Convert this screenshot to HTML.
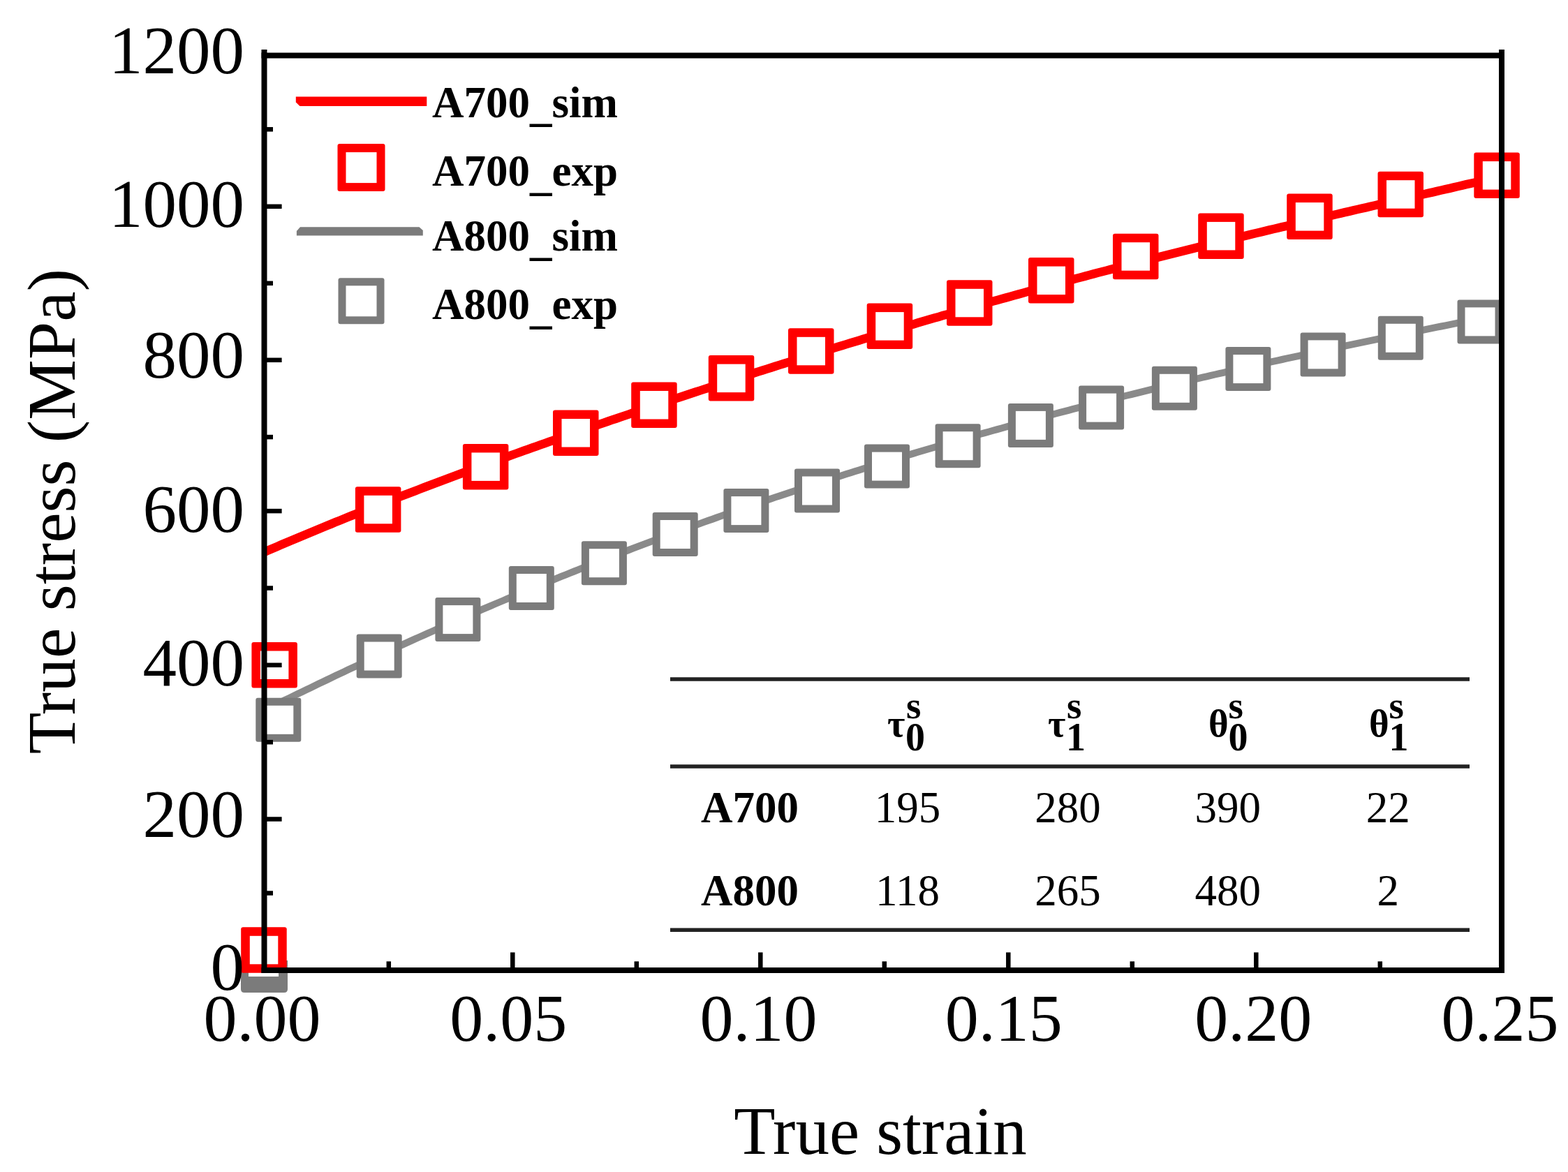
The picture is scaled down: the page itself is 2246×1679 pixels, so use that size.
<!DOCTYPE html><html><head><meta charset="utf-8"><title>True stress vs true strain</title>
<style>html,body{margin:0;padding:0;background:#fff;}svg{display:block;}text{font-family:"Liberation Serif","Times New Roman",serif;}</style></head><body>
<svg width="2246" height="1679" viewBox="0 0 2246 1679">
<rect x="0" y="0" width="2246" height="1679" fill="#fff"/>
<polyline points="378.5,1017.6 384.5,1014.6 390.5,1011.7 396.5,1008.7 402.5,1005.8 408.5,1002.8 414.5,999.9 420.5,997.0 426.5,994.1 432.5,991.2 438.5,988.3 444.5,985.4 450.5,982.5 456.5,979.6 462.5,976.7 468.5,973.9 474.5,971.0 480.5,968.1 486.5,965.3 492.5,962.5 498.5,959.6 504.5,956.8 510.5,954.0 516.5,951.2 522.5,948.4 528.5,945.6 534.5,942.8 540.5,940.1 546.5,937.3 552.5,934.5 558.5,931.8 564.5,929.0 570.5,926.3 576.5,923.6 582.5,920.9 588.5,918.1 594.5,915.4 600.5,912.7 606.5,910.1 612.5,907.4 618.5,904.7 624.5,902.0 630.5,899.4 636.5,896.7 642.5,894.1 648.5,891.4 654.5,888.8 660.5,886.2 666.5,883.6 672.5,881.0 678.5,878.4 684.5,875.8 690.5,873.2 696.5,870.7 702.5,868.1 708.5,865.5 714.5,863.0 720.5,860.5 726.5,857.9 732.5,855.4 738.5,852.9 744.5,850.4 750.5,847.9 756.5,845.4 762.5,842.9 768.5,840.4 774.5,838.0 780.5,835.5 786.5,833.1 792.5,830.6 798.5,828.2 804.5,825.7 810.5,823.3 816.5,820.9 822.5,818.5 828.5,816.1 834.5,813.7 840.5,811.3 846.5,809.0 852.5,806.6 858.5,804.3 864.5,801.9 870.5,799.6 876.5,797.2 882.5,794.9 888.5,792.6 894.5,790.3 900.5,788.0 906.5,785.7 912.5,783.4 918.5,781.1 924.5,778.9 930.5,776.6 936.5,774.4 942.5,772.1 948.5,769.9 954.5,767.7 960.5,765.4 966.5,763.2 972.5,761.0 978.5,758.8 984.5,756.6 990.5,754.4 996.5,752.3 1002.5,750.1 1008.5,747.9 1014.5,745.8 1020.5,743.7 1026.5,741.5 1032.5,739.4 1038.5,737.3 1044.5,735.2 1050.5,733.1 1056.5,731.0 1062.5,728.9 1068.5,726.8 1074.5,724.7 1080.5,722.6 1086.5,720.6 1092.5,718.5 1098.5,716.5 1104.5,714.5 1110.5,712.4 1116.5,710.4 1122.5,708.4 1128.5,706.4 1134.5,704.4 1140.5,702.4 1146.5,700.4 1152.5,698.4 1158.5,696.5 1164.5,694.5 1170.5,692.6 1176.5,690.6 1182.5,688.7 1188.5,686.7 1194.5,684.8 1200.5,682.9 1206.5,681.0 1212.5,679.1 1218.5,677.2 1224.5,675.3 1230.5,673.4 1236.5,671.5 1242.5,669.7 1248.5,667.8 1254.5,666.0 1260.5,664.1 1266.5,662.3 1272.5,660.4 1278.5,658.6 1284.5,656.8 1290.5,655.0 1296.5,653.2 1302.5,651.4 1308.5,649.6 1314.5,647.8 1320.5,646.0 1326.5,644.2 1332.5,642.5 1338.5,640.7 1344.5,639.0 1350.5,637.2 1356.5,635.5 1362.5,633.8 1368.5,632.0 1374.5,630.3 1380.5,628.6 1386.5,626.9 1392.5,625.2 1398.5,623.5 1404.5,621.8 1410.5,620.1 1416.5,618.5 1422.5,616.8 1428.5,615.1 1434.5,613.5 1440.5,611.8 1446.5,610.2 1452.5,608.5 1458.5,606.9 1464.5,605.3 1470.5,603.7 1476.5,602.1 1482.5,600.4 1488.5,598.8 1494.5,597.3 1500.5,595.7 1506.5,594.1 1512.5,592.5 1518.5,590.9 1524.5,589.4 1530.5,587.8 1536.5,586.2 1542.5,584.7 1548.5,583.2 1554.5,581.6 1560.5,580.1 1566.5,578.6 1572.5,577.0 1578.5,575.5 1584.5,574.0 1590.5,572.5 1596.5,571.0 1602.5,569.5 1608.5,568.0 1614.5,566.5 1620.5,565.1 1626.5,563.6 1632.5,562.1 1638.5,560.7 1644.5,559.2 1650.5,557.7 1656.5,556.3 1662.5,554.9 1668.5,553.4 1674.5,552.0 1680.5,550.6 1686.5,549.1 1692.5,547.7 1698.5,546.3 1704.5,544.9 1710.5,543.5 1716.5,542.1 1722.5,540.7 1728.5,539.3 1734.5,537.9 1740.5,536.5 1746.5,535.1 1752.5,533.8 1758.5,532.4 1764.5,531.0 1770.5,529.7 1776.5,528.3 1782.5,527.0 1788.5,525.6 1794.5,524.3 1800.5,522.9 1806.5,521.6 1812.5,520.3 1818.5,518.9 1824.5,517.6 1830.5,516.3 1836.5,515.0 1842.5,513.7 1848.5,512.4 1854.5,511.1 1860.5,509.8 1866.5,508.5 1872.5,507.2 1878.5,505.9 1884.5,504.6 1890.5,503.3 1896.5,502.0 1902.5,500.8 1908.5,499.5 1914.5,498.2 1920.5,497.0 1926.5,495.7 1932.5,494.4 1938.5,493.2 1944.5,491.9 1950.5,490.7 1956.5,489.4 1962.5,488.2 1968.5,486.9 1974.5,485.7 1980.5,484.5 1986.5,483.2 1992.5,482.0 1998.5,480.8 2004.5,479.6 2010.5,478.3 2016.5,477.1 2022.5,475.9 2028.5,474.7 2034.5,473.5 2040.5,472.3 2046.5,471.1 2052.5,469.9 2058.5,468.7 2064.5,467.5 2070.5,466.3 2076.5,465.1 2082.5,463.9 2088.5,462.7 2094.5,461.5 2100.5,460.3 2106.5,459.2 2112.5,458.0 2118.5,456.8 2120.0,456.5" fill="none" stroke="#8a8a8a" stroke-width="10" stroke-linejoin="round"/>
<polyline points="378.5,790.9 384.5,788.3 390.5,785.7 396.5,783.2 402.5,780.6 408.5,778.0 414.5,775.5 420.5,773.0 426.5,770.4 432.5,767.9 438.5,765.4 444.5,762.9 450.5,760.4 456.5,757.9 462.5,755.5 468.5,753.0 474.5,750.6 480.5,748.1 486.5,745.7 492.5,743.3 498.5,740.8 504.5,738.4 510.5,736.0 516.5,733.6 522.5,731.3 528.5,728.9 534.5,726.5 540.5,724.2 546.5,721.8 552.5,719.5 558.5,717.1 564.5,714.8 570.5,712.5 576.5,710.2 582.5,707.9 588.5,705.6 594.5,703.3 600.5,701.0 606.5,698.7 612.5,696.4 618.5,694.1 624.5,691.9 630.5,689.6 636.5,687.4 642.5,685.1 648.5,682.9 654.5,680.7 660.5,678.4 666.5,676.2 672.5,674.0 678.5,671.8 684.5,669.6 690.5,667.4 696.5,665.2 702.5,663.0 708.5,660.8 714.5,658.7 720.5,656.5 726.5,654.3 732.5,652.2 738.5,650.0 744.5,647.9 750.5,645.7 756.5,643.6 762.5,641.4 768.5,639.3 774.5,637.2 780.5,635.1 786.5,632.9 792.5,630.8 798.5,628.7 804.5,626.6 810.5,624.5 816.5,622.4 822.5,620.3 828.5,618.3 834.5,616.2 840.5,614.1 846.5,612.0 852.5,610.0 858.5,607.9 864.5,605.8 870.5,603.8 876.5,601.7 882.5,599.7 888.5,597.6 894.5,595.6 900.5,593.6 906.5,591.5 912.5,589.5 918.5,587.5 924.5,585.5 930.5,583.4 936.5,581.4 942.5,579.4 948.5,577.4 954.5,575.4 960.5,573.4 966.5,571.4 972.5,569.5 978.5,567.5 984.5,565.5 990.5,563.5 996.5,561.5 1002.5,559.6 1008.5,557.6 1014.5,555.7 1020.5,553.7 1026.5,551.7 1032.5,549.8 1038.5,547.9 1044.5,545.9 1050.5,544.0 1056.5,542.0 1062.5,540.1 1068.5,538.2 1074.5,536.3 1080.5,534.3 1086.5,532.4 1092.5,530.5 1098.5,528.6 1104.5,526.7 1110.5,524.8 1116.5,522.9 1122.5,521.0 1128.5,519.1 1134.5,517.3 1140.5,515.4 1146.5,513.5 1152.5,511.6 1158.5,509.8 1164.5,507.9 1170.5,506.0 1176.5,504.2 1182.5,502.3 1188.5,500.5 1194.5,498.6 1200.5,496.8 1206.5,495.0 1212.5,493.1 1218.5,491.3 1224.5,489.5 1230.5,487.7 1236.5,485.8 1242.5,484.0 1248.5,482.2 1254.5,480.4 1260.5,478.6 1266.5,476.8 1272.5,475.0 1278.5,473.2 1284.5,471.5 1290.5,469.7 1296.5,467.9 1302.5,466.1 1308.5,464.4 1314.5,462.6 1320.5,460.8 1326.5,459.1 1332.5,457.3 1338.5,455.6 1344.5,453.9 1350.5,452.1 1356.5,450.4 1362.5,448.7 1368.5,446.9 1374.5,445.2 1380.5,443.5 1386.5,441.8 1392.5,440.1 1398.5,438.4 1404.5,436.7 1410.5,435.0 1416.5,433.3 1422.5,431.6 1428.5,429.9 1434.5,428.2 1440.5,426.6 1446.5,424.9 1452.5,423.2 1458.5,421.6 1464.5,419.9 1470.5,418.3 1476.5,416.6 1482.5,415.0 1488.5,413.3 1494.5,411.7 1500.5,410.1 1506.5,408.4 1512.5,406.8 1518.5,405.2 1524.5,403.6 1530.5,402.0 1536.5,400.4 1542.5,398.8 1548.5,397.2 1554.5,395.6 1560.5,394.0 1566.5,392.4 1572.5,390.8 1578.5,389.2 1584.5,387.7 1590.5,386.1 1596.5,384.5 1602.5,383.0 1608.5,381.4 1614.5,379.9 1620.5,378.3 1626.5,376.8 1632.5,375.3 1638.5,373.7 1644.5,372.2 1650.5,370.7 1656.5,369.1 1662.5,367.6 1668.5,366.1 1674.5,364.6 1680.5,363.1 1686.5,361.6 1692.5,360.1 1698.5,358.6 1704.5,357.1 1710.5,355.6 1716.5,354.1 1722.5,352.7 1728.5,351.2 1734.5,349.7 1740.5,348.2 1746.5,346.8 1752.5,345.3 1758.5,343.9 1764.5,342.4 1770.5,340.9 1776.5,339.5 1782.5,338.1 1788.5,336.6 1794.5,335.2 1800.5,333.7 1806.5,332.3 1812.5,330.9 1818.5,329.4 1824.5,328.0 1830.5,326.6 1836.5,325.2 1842.5,323.8 1848.5,322.4 1854.5,320.9 1860.5,319.5 1866.5,318.1 1872.5,316.7 1878.5,315.3 1884.5,313.9 1890.5,312.5 1896.5,311.1 1902.5,309.7 1908.5,308.4 1914.5,307.0 1920.5,305.6 1926.5,304.2 1932.5,302.8 1938.5,301.4 1944.5,300.0 1950.5,298.7 1956.5,297.3 1962.5,295.9 1968.5,294.5 1974.5,293.2 1980.5,291.8 1986.5,290.4 1992.5,289.0 1998.5,287.7 2004.5,286.3 2010.5,284.9 2016.5,283.5 2022.5,282.2 2028.5,280.8 2034.5,279.4 2040.5,278.0 2046.5,276.7 2052.5,275.3 2058.5,273.9 2064.5,272.5 2070.5,271.2 2076.5,269.8 2082.5,268.4 2088.5,267.0 2094.5,265.6 2100.5,264.2 2106.5,262.9 2112.5,261.5 2118.5,260.1 2124.5,258.7 2130.5,257.3 2136.5,255.9 2142.5,254.5 2144.0,254.1" fill="none" stroke="#ff0000" stroke-width="12.5" stroke-linejoin="round"/>
<path d="M345,1376 H412 V1417 Q412,1422 407,1422 H350 Q345,1422 345,1417 Z" fill="#7b7b7b"/>
<rect x="356" y="1376" width="43" height="23" fill="#fff"/>
<rect x="366.3" y="999.8" width="65.0" height="63.0" rx="3" fill="#7b7b7b"/><rect x="377.3" y="1010.8" width="43.0" height="41.0" fill="#fff"/>
<rect x="510.7" y="908.5" width="65.0" height="63.0" rx="3" fill="#7b7b7b"/><rect x="521.7" y="919.5" width="43.0" height="41.0" fill="#fff"/>
<rect x="623.4" y="856.1" width="65.0" height="63.0" rx="3" fill="#7b7b7b"/><rect x="634.4" y="867.1" width="43.0" height="41.0" fill="#fff"/>
<rect x="728.8" y="811.0" width="65.0" height="63.0" rx="3" fill="#7b7b7b"/><rect x="739.8" y="822.0" width="43.0" height="41.0" fill="#fff"/>
<rect x="832.9" y="775.2" width="65.0" height="63.0" rx="3" fill="#7b7b7b"/><rect x="843.9" y="786.2" width="43.0" height="41.0" fill="#fff"/>
<rect x="934.7" y="734.0" width="65.0" height="63.0" rx="3" fill="#7b7b7b"/><rect x="945.7" y="745.0" width="43.0" height="41.0" fill="#fff"/>
<rect x="1036.4" y="700.1" width="65.0" height="63.0" rx="3" fill="#7b7b7b"/><rect x="1047.4" y="711.1" width="43.0" height="41.0" fill="#fff"/>
<rect x="1138.0" y="671.5" width="65.0" height="63.0" rx="3" fill="#7b7b7b"/><rect x="1149.0" y="682.5" width="43.0" height="41.0" fill="#fff"/>
<rect x="1238.0" y="636.6" width="65.0" height="63.0" rx="3" fill="#7b7b7b"/><rect x="1249.0" y="647.6" width="43.0" height="41.0" fill="#fff"/>
<rect x="1339.6" y="607.2" width="65.0" height="63.0" rx="3" fill="#7b7b7b"/><rect x="1350.6" y="618.2" width="43.0" height="41.0" fill="#fff"/>
<rect x="1443.9" y="577.9" width="65.0" height="63.0" rx="3" fill="#7b7b7b"/><rect x="1454.9" y="588.9" width="43.0" height="41.0" fill="#fff"/>
<rect x="1545.1" y="552.6" width="65.0" height="63.0" rx="3" fill="#7b7b7b"/><rect x="1556.1" y="563.6" width="43.0" height="41.0" fill="#fff"/>
<rect x="1649.9" y="524.8" width="65.0" height="63.0" rx="3" fill="#7b7b7b"/><rect x="1660.9" y="535.8" width="43.0" height="41.0" fill="#fff"/>
<rect x="1755.4" y="497.1" width="65.0" height="63.0" rx="3" fill="#7b7b7b"/><rect x="1766.4" y="508.1" width="43.0" height="41.0" fill="#fff"/>
<rect x="1862.6" y="476.4" width="65.0" height="63.0" rx="3" fill="#7b7b7b"/><rect x="1873.6" y="487.4" width="43.0" height="41.0" fill="#fff"/>
<rect x="1973.8" y="452.8" width="65.0" height="63.0" rx="3" fill="#7b7b7b"/><rect x="1984.8" y="463.8" width="43.0" height="41.0" fill="#fff"/>
<rect x="2087.5" y="429.4" width="65.0" height="63.0" rx="3" fill="#7b7b7b"/><rect x="2098.5" y="440.4" width="43.0" height="41.0" fill="#fff"/>
<rect x="345.2" y="1328.2" width="65.5" height="65.5" rx="3" fill="#ff0000"/><rect x="357.8" y="1340.8" width="40.5" height="40.5" fill="#fff"/>
<rect x="360.4" y="920.0" width="65.5" height="65.5" rx="3" fill="#ff0000"/><rect x="372.9" y="932.5" width="40.5" height="40.5" fill="#fff"/>
<rect x="508.9" y="697.2" width="65.5" height="65.5" rx="3" fill="#ff0000"/><rect x="521.4" y="709.8" width="40.5" height="40.5" fill="#fff"/>
<rect x="662.9" y="635.9" width="65.5" height="65.5" rx="3" fill="#ff0000"/><rect x="675.4" y="648.4" width="40.5" height="40.5" fill="#fff"/>
<rect x="792.0" y="587.5" width="65.5" height="65.5" rx="3" fill="#ff0000"/><rect x="804.5" y="600.0" width="40.5" height="40.5" fill="#fff"/>
<rect x="904.2" y="547.5" width="65.5" height="65.5" rx="3" fill="#ff0000"/><rect x="916.8" y="560.0" width="40.5" height="40.5" fill="#fff"/>
<rect x="1014.8" y="509.1" width="65.5" height="65.5" rx="3" fill="#ff0000"/><rect x="1027.2" y="521.6" width="40.5" height="40.5" fill="#fff"/>
<rect x="1129.0" y="470.2" width="65.5" height="65.5" rx="3" fill="#ff0000"/><rect x="1141.5" y="482.8" width="40.5" height="40.5" fill="#fff"/>
<rect x="1241.7" y="434.6" width="65.5" height="65.5" rx="3" fill="#ff0000"/><rect x="1254.2" y="447.1" width="40.5" height="40.5" fill="#fff"/>
<rect x="1356.0" y="401.2" width="65.5" height="65.5" rx="3" fill="#ff0000"/><rect x="1368.5" y="413.8" width="40.5" height="40.5" fill="#fff"/>
<rect x="1473.0" y="369.1" width="65.5" height="65.5" rx="3" fill="#ff0000"/><rect x="1485.5" y="381.6" width="40.5" height="40.5" fill="#fff"/>
<rect x="1594.0" y="334.8" width="65.5" height="65.5" rx="3" fill="#ff0000"/><rect x="1606.5" y="347.2" width="40.5" height="40.5" fill="#fff"/>
<rect x="1716.2" y="305.4" width="65.5" height="65.5" rx="3" fill="#ff0000"/><rect x="1728.8" y="317.9" width="40.5" height="40.5" fill="#fff"/>
<rect x="1843.2" y="277.6" width="65.5" height="65.5" rx="3" fill="#ff0000"/><rect x="1855.8" y="290.1" width="40.5" height="40.5" fill="#fff"/>
<rect x="1973.5" y="245.8" width="65.5" height="65.5" rx="3" fill="#ff0000"/><rect x="1986.0" y="258.2" width="40.5" height="40.5" fill="#fff"/>
<rect x="2111.3" y="218.6" width="65.5" height="65.5" rx="3" fill="#ff0000"/><rect x="2123.8" y="231.1" width="40.5" height="40.5" fill="#fff"/>
<g stroke="#000" stroke-width="8" fill="none" stroke-linecap="butt">
<line x1="374.5" y1="79.6" x2="2155" y2="79.6"/>
<line x1="374.5" y1="1390" x2="2155" y2="1390"/>
<line x1="378.5" y1="71" x2="378.5" y2="1394"/>
<line x1="2151" y1="71" x2="2151" y2="1394"/>
</g>
<g stroke="#000" stroke-width="6.5">
<line x1="378.5" y1="1173.5" x2="403.6" y2="1173.5"/>
<line x1="378.5" y1="952.8" x2="403.6" y2="952.8"/>
<line x1="378.5" y1="732.1" x2="403.6" y2="732.1"/>
<line x1="378.5" y1="515.8" x2="403.6" y2="515.8"/>
<line x1="378.5" y1="295.8" x2="403.6" y2="295.8"/>
<line x1="378.5" y1="1279.5" x2="391" y2="1279.5"/>
<line x1="378.5" y1="1063.2" x2="391" y2="1063.2"/>
<line x1="378.5" y1="842.5" x2="391" y2="842.5"/>
<line x1="378.5" y1="626.1" x2="391" y2="626.1"/>
<line x1="378.5" y1="405.8" x2="391" y2="405.8"/>
<line x1="378.5" y1="185.3" x2="391" y2="185.3"/>
<line x1="556.8" y1="1390" x2="556.8" y2="1377.3"/>
<line x1="734.3" y1="1390" x2="734.3" y2="1364.4"/>
<line x1="911.8" y1="1390" x2="911.8" y2="1377.3"/>
<line x1="1089.3" y1="1390" x2="1089.3" y2="1364.4"/>
<line x1="1266.8" y1="1390" x2="1266.8" y2="1377.3"/>
<line x1="1444.3" y1="1390" x2="1444.3" y2="1364.4"/>
<line x1="1621.8" y1="1390" x2="1621.8" y2="1377.3"/>
<line x1="1799.3" y1="1390" x2="1799.3" y2="1364.4"/>
<line x1="1976.8" y1="1390" x2="1976.8" y2="1377.3"/>
</g>
<g font-size="97" fill="#000" text-anchor="end">
<text x="350" y="105">1200</text>
<text x="350" y="325">1000</text>
<text x="350" y="541">800</text>
<text x="350" y="762">600</text>
<text x="350" y="982">400</text>
<text x="350" y="1199">200</text>
<text x="350" y="1417.5">0</text>
</g>
<g font-size="96" fill="#000" text-anchor="middle">
<text x="375.6" y="1491">0.00</text>
<text x="728.2" y="1491">0.05</text>
<text x="1086.5" y="1491">0.10</text>
<text x="1437.7" y="1491">0.15</text>
<text x="1795.2" y="1491">0.20</text>
<text x="2148.4" y="1491">0.25</text>
</g>
<text x="1261" y="1653" font-size="97" text-anchor="middle">True strain</text>
<text transform="translate(107,732.7) rotate(-90)" font-size="97.5" text-anchor="middle">True stress (MPa)</text>
<path d="M423.8,138.4 H611.3 V151.9 H429.5 L423.8,146.5 Z" fill="#ff0000"/>
<rect x="483.5" y="206.1" width="68.0" height="68.0" rx="3" fill="#ff0000"/><rect x="495.5" y="218.1" width="44.0" height="44.0" fill="#fff"/>
<path d="M430,325.2 H600.5 L605.8,330 V337.4 H424.9 V331 Z" fill="#7b7b7b"/>
<rect x="484.5" y="398.3" width="66.0" height="66.0" rx="3" fill="#7b7b7b"/><rect x="495.5" y="409.3" width="44.0" height="44.0" fill="#fff"/>
<g font-size="63" font-weight="bold" fill="#000">
<text x="619" y="167.8">A700<tspan dy="5.5">_</tspan><tspan dy="-5.5">sim</tspan></text>
<text x="619" y="266.1">A700<tspan dy="5.5">_</tspan><tspan dy="-5.5">exp</tspan></text>
<text x="619" y="359">A800<tspan dy="5.5">_</tspan><tspan dy="-5.5">sim</tspan></text>
<text x="619" y="457.3">A800<tspan dy="5.5">_</tspan><tspan dy="-5.5">exp</tspan></text>
</g>
<g stroke="#222" stroke-width="5.5">
<line x1="960" y1="973" x2="2105" y2="973"/>
<line x1="960" y1="1098" x2="2105" y2="1098"/>
<line x1="960" y1="1332.3" x2="2105" y2="1332.3"/>
</g>
<g font-size="63" fill="#000">
<text x="1004" y="1178.3" font-weight="bold">A700</text>
<text x="1004" y="1296.7" font-weight="bold">A800</text>
<text x="1300" y="1178.3" text-anchor="middle">195</text>
<text x="1300" y="1296.7" text-anchor="middle">118</text>
<text x="1529.5" y="1178.3" text-anchor="middle">280</text>
<text x="1529.5" y="1296.7" text-anchor="middle">265</text>
<text x="1758.8" y="1178.3" text-anchor="middle">390</text>
<text x="1758.8" y="1296.7" text-anchor="middle">480</text>
<text x="1988.2" y="1178.3" text-anchor="middle">22</text>
<text x="1988.2" y="1296.7" text-anchor="middle">2</text>
</g>
<text x="1271" y="1055" font-size="55" font-weight="bold">τ</text><text x="1297" y="1075" font-size="56" font-weight="bold">0</text><text x="1298.0" y="1029" font-size="55" font-weight="bold">s</text>
<text x="1501" y="1055" font-size="55" font-weight="bold">τ</text><text x="1527" y="1075" font-size="56" font-weight="bold">1</text><text x="1528.0" y="1029" font-size="55" font-weight="bold">s</text>
<text x="1731" y="1055" font-size="55" font-weight="bold">θ</text><text x="1759.5" y="1075" font-size="56" font-weight="bold">0</text><text x="1759.5" y="1029" font-size="55" font-weight="bold">s</text>
<text x="1961" y="1055" font-size="55" font-weight="bold">θ</text><text x="1989.5" y="1075" font-size="56" font-weight="bold">1</text><text x="1989.5" y="1029" font-size="55" font-weight="bold">s</text>
</svg></body></html>
